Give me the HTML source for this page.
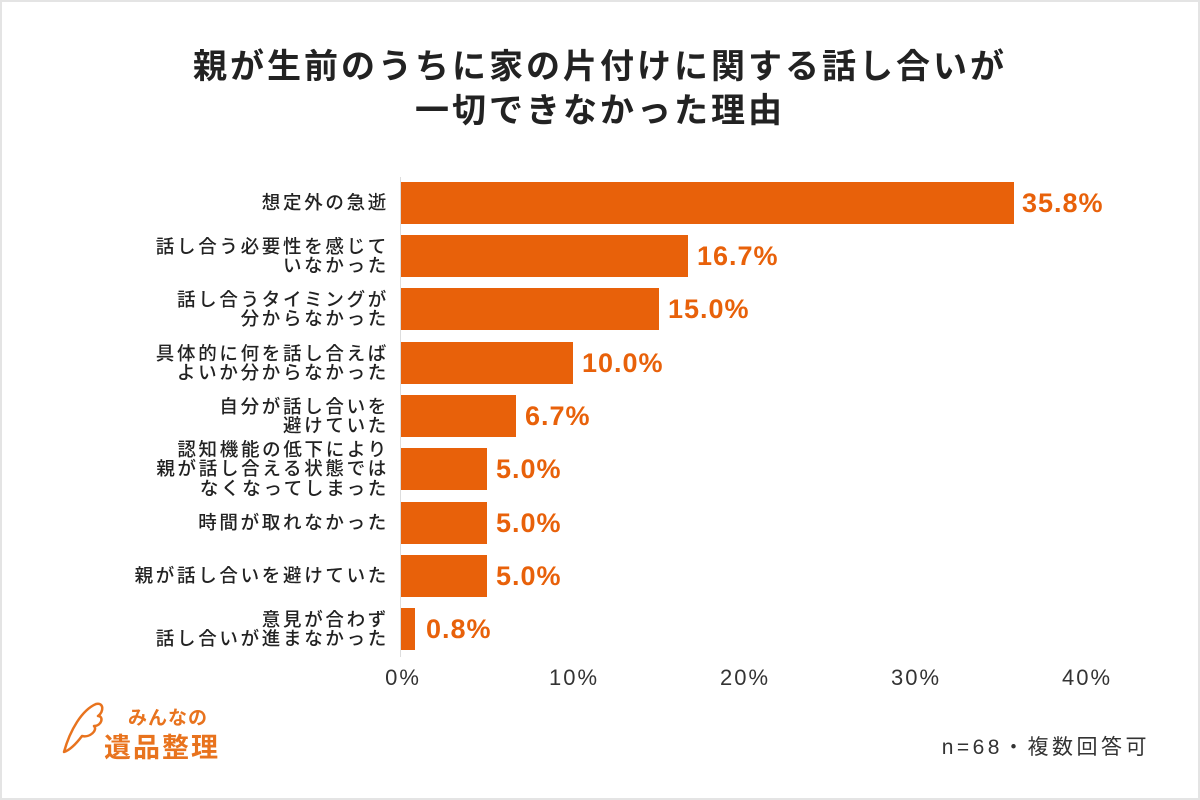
<!DOCTYPE html>
<html><head><meta charset="utf-8"><style>
*{margin:0;padding:0;box-sizing:border-box}
body{width:1200px;height:800px;background:#fff;position:relative;overflow:hidden;font-family:"Liberation Sans","Noto Sans CJK JP",sans-serif;color:#222}
.frame{position:absolute;left:0;top:0;width:1200px;height:800px;border:2px solid #e4e4e4}
.title{position:absolute;left:0;width:1200px;text-align:center;font-size:34px;font-weight:700;line-height:44px;top:45px;letter-spacing:3px}
.axis{position:absolute;left:400px;top:177px;width:1px;height:480px;background:#ddd}
.bar{position:absolute;left:401px;height:42px;background:#E8610A}
.val{position:absolute;font-size:27px;font-weight:700;color:#E8610A;line-height:42px;letter-spacing:1px}
.lab{position:absolute;right:811px;text-align:right;font-size:18.5px;font-weight:500;line-height:19.5px;display:flex;align-items:center;justify-content:flex-end;height:42px;white-space:nowrap;letter-spacing:2.7px}
.tick{position:absolute;top:665px;font-size:22px;transform:translateX(-50%);color:#333;letter-spacing:2px}
.note{position:absolute;right:50px;top:731px;font-size:21px;color:#333;letter-spacing:3.5px}
</style></head><body>
<div class="frame"></div>
<div class="title">親が生前のうちに家の片付けに関する話し合いが<br>一切できなかった理由</div>
<div class="axis"></div>

<div class="lab" style="top:182px">想定外の急逝</div>
<div class="bar" style="top:182px;width:613px"></div><div class="val" style="top:182px;left:1022px">35.8%</div>

<div class="lab" style="top:235px">話し合う必要性を感じて<br>いなかった</div>
<div class="bar" style="top:235px;width:287px"></div><div class="val" style="top:235px;left:697px">16.7%</div>

<div class="lab" style="top:288px">話し合うタイミングが<br>分からなかった</div>
<div class="bar" style="top:288px;width:258px"></div><div class="val" style="top:288px;left:668px">15.0%</div>

<div class="lab" style="top:342px">具体的に何を話し合えば<br>よいか分からなかった</div>
<div class="bar" style="top:342px;width:172px"></div><div class="val" style="top:342px;left:582px">10.0%</div>

<div class="lab" style="top:395px">自分が話し合いを<br>避けていた</div>
<div class="bar" style="top:395px;width:115px"></div><div class="val" style="top:395px;left:525px">6.7%</div>

<div class="lab" style="top:448px">認知機能の低下により<br>親が話し合える状態では<br>なくなってしまった</div>
<div class="bar" style="top:448px;width:86px"></div><div class="val" style="top:448px;left:496px">5.0%</div>

<div class="lab" style="top:502px">時間が取れなかった</div>
<div class="bar" style="top:502px;width:86px"></div><div class="val" style="top:502px;left:496px">5.0%</div>

<div class="lab" style="top:555px">親が話し合いを避けていた</div>
<div class="bar" style="top:555px;width:86px"></div><div class="val" style="top:555px;left:496px">5.0%</div>

<div class="lab" style="top:608px">意見が合わず<br>話し合いが進まなかった</div>
<div class="bar" style="top:608px;width:14px"></div><div class="val" style="top:608px;left:426px">0.8%</div>

<div class="tick" style="left:403px">0%</div>
<div class="tick" style="left:574px">10%</div>
<div class="tick" style="left:745px">20%</div>
<div class="tick" style="left:916px">30%</div>
<div class="tick" style="left:1087px">40%</div>

<svg style="position:absolute;left:60px;top:700px" width="50" height="60" viewBox="0 0 50 60">
<path d="M4 52 C10 30 22 10 36 4 C44 2 44 12 38 16 C44 16 42 26 34 26 C38 30 30 38 22 36 C16 44 10 50 4 52 Z" fill="none" stroke="#E8731E" stroke-width="2.5" stroke-linejoin="round"/>
</svg>
<div style="position:absolute;left:128px;top:703px;font-size:19px;font-weight:700;color:#E8731E;letter-spacing:1px">みんなの</div>
<div style="position:absolute;left:104px;top:726px;font-size:27px;font-weight:700;color:#E8731E;letter-spacing:2px">遺品整理</div>
<div class="note">n=68・複数回答可</div>
</body></html>
